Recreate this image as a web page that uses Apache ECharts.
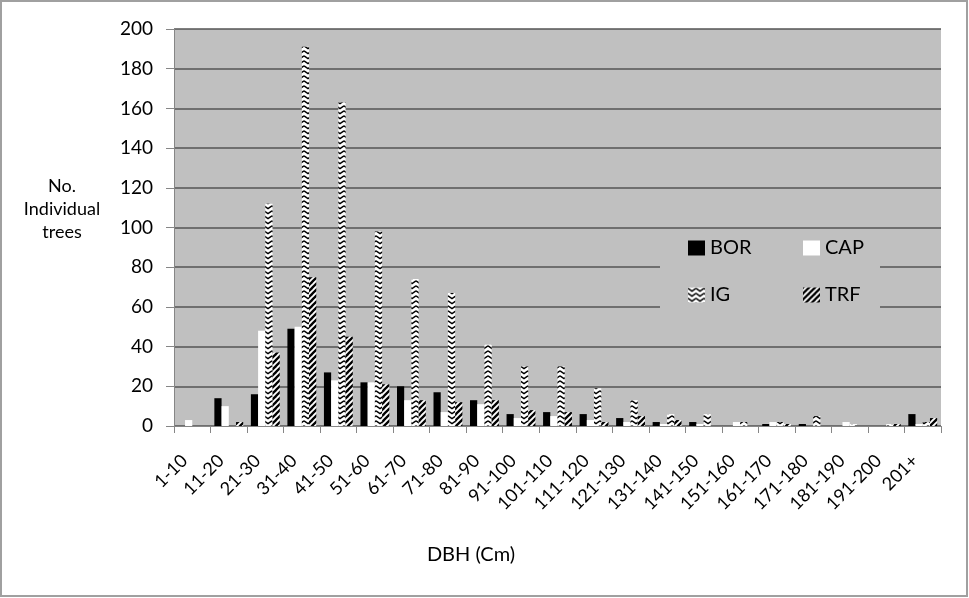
<!DOCTYPE html>
<html>
<head>
<meta charset="utf-8">
<script src="https://cdn.jsdelivr.net/npm/echarts@6/dist/echarts.min.js"></script>
<style>
  html, body { margin: 0; padding: 0; background: #fff; }
  #chart { width: 969px; height: 598px; }
</style>
</head>
<body>
<div id="chart"></div>
<script>
// Diameter-at-breast-height classes
const categories = ['1-10','11-20','21-30','31-40','41-50','51-60','61-70','71-80','81-90','91-100',
  '101-110','111-120','121-130','131-140','141-150','151-160','161-170','171-180','181-190','191-200','201+'];

// Number of individual trees per class and site
const borValues = [0,14,16,49,27,22,20,17,13,6,7,6,4,2,2,0,1,1,0,0,6];
const capValues = [3,10,48,50,23,22,13,7,11,4,5,3,2,1,1,2,2,0,2,0,1];
const igValues  = [0,0,112,191,163,98,74,67,41,30,30,19,13,6,6,2,2,5,1,1,2];
const trfValues = [0,2,37,75,45,21,13,12,13,8,7,2,5,3,0,0,1,0,0,1,4];

const yTicks = { min: 0, max: 200, step: 20 };

const FONT = 'Lato, "Open Sans", sans-serif';

// Zigzag fill for IG bars
function zigzagPattern() {
  const c = document.createElement('canvas');
  c.width = 8; c.height = 5;
  const g = c.getContext('2d');
  g.fillStyle = '#fff';
  g.fillRect(0, 0, 8, 5);
  g.strokeStyle = '#000';
  g.lineWidth = 1.5;
  for (const off of [-5, 0, 5]) {
    g.beginPath();
    g.moveTo(0, 0.8 + off);
    g.lineTo(4, 3.6 + off);
    g.lineTo(8, 0.8 + off);
    g.stroke();
  }
  return { image: c, repeat: 'repeat' };
}

// Diagonal stripes for TRF bars
function stripePattern() {
  const c = document.createElement('canvas');
  c.width = 6; c.height = 6;
  const g = c.getContext('2d');
  g.fillStyle = '#fff';
  g.fillRect(0, 0, 6, 6);
  g.strokeStyle = '#000';
  g.lineWidth = 2.3;
  for (const k of [0, 6, 12]) {
    g.beginPath();
    g.moveTo(k - 6 - 1, 6 + 1);
    g.lineTo(k + 1, -1);
    g.stroke();
  }
  return { image: c, repeat: 'repeat' };
}

const chart = echarts.init(document.getElementById('chart'), null, { renderer: 'canvas' });

function barSeries(name, values, color) {
  return {
    name: name,
    type: 'bar',
    data: values,
    barGap: '0%',
    barCategoryGap: '21%',
    itemStyle: { color: color },
    emphasis: { disabled: true },
    animation: false
  };
}

// Shared legend look; two columns placed side by side on a grey panel
const legendBase = {
  orient: 'vertical',
  top: 229,
  backgroundColor: '#c0c0c0',
  itemWidth: 17, itemHeight: 15,
  itemGap: 23,
  icon: 'rect',
  selectedMode: false
};

const option = {
  backgroundColor: '#fff',
  animation: false,
  textStyle: { fontFamily: FONT },
  grid: {
    left: 174, right: 28, top: 29, bottom: 172,
    show: true, backgroundColor: '#c0c0c0', borderWidth: 0
  },
  legend: [
    Object.assign({}, legendBase, {
      left: 660,
      padding: [7, 3, 30, 28],
      textStyle: { fontFamily: FONT, fontSize: 20, color: '#000', width: 70, lineHeight: 24 },
      data: ['BOR', 'IG']
    }),
    Object.assign({}, legendBase, {
      left: 783,
      padding: [7, 15, 30, 20],
      textStyle: { fontFamily: FONT, fontSize: 20, color: '#000', width: 40, lineHeight: 24 },
      data: ['CAP', 'TRF']
    })
  ],
  xAxis: {
    type: 'category',
    data: categories,
    axisLine: { show: true, lineStyle: { color: '#868686', width: 1 } },
    axisTick: { show: true, length: 7, lineStyle: { color: '#868686' } },
    axisLabel: {
      interval: 0, rotate: 45, margin: 24,
      color: '#000', fontFamily: FONT, fontSize: 18,
      padding: [0, 11, 0, 0]
    },
    splitLine: { show: false }
  },
  yAxis: {
    type: 'value',
    min: yTicks.min, max: yTicks.max, interval: yTicks.step,
    axisLine: { show: true, lineStyle: { color: '#868686', width: 1 } },
    axisTick: { show: true, length: 8, lineStyle: { color: '#868686' } },
    axisLabel: { margin: 21, color: '#000', fontFamily: FONT, fontSize: 19 },
    splitLine: { show: true, lineStyle: { color: '#555555', width: 1.5 } }
  },
  series: [
    barSeries('BOR', borValues, '#000'),
    barSeries('CAP', capValues, '#fff'),
    barSeries('IG', igValues, zigzagPattern()),
    barSeries('TRF', trfValues, stripePattern())
  ],
  graphic: [
    {
      type: 'rect', silent: true, z: 100,
      shape: { x: 1, y: 1, width: 966, height: 595 },
      style: { fill: 'none', stroke: '#a0a0a0', lineWidth: 2 }
    },
    {
      type: 'text', silent: true,
      left: 62 - 45, top: 175,
      style: {
        text: 'No.\nIndividual\ntrees',
        fill: '#000', font: '18px ' + FONT,
        textAlign: 'center', width: 90, lineHeight: 23
      }
    },
    {
      type: 'text', silent: true,
      x: 471, y: 555,
      style: {
        text: 'DBH (Cm)',
        fill: '#000', font: '20px ' + FONT,
        textAlign: 'center', textVerticalAlign: 'middle'
      }
    }
  ]
};

chart.setOption(option);
</script>
</body>
</html>
